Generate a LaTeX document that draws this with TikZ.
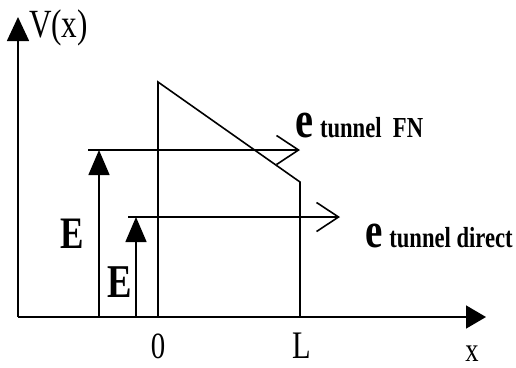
\documentclass[tikz,border=0pt]{standalone}
\usepackage{fontspec}
\usepackage{graphicx}
\setmainfont{Liberation Serif}
\usetikzlibrary{arrows.meta}
\newcommand{\narrow}[1]{\scalebox{0.78}[1]{#1}}
\tikzset{
  ln/.style={line width=1.6pt, line cap=butt},
  axisarrow/.style={ln, -{Triangle[length=20pt,width=23pt]}},
  earrow/.style={ln, -{Triangle[length=25pt,width=21pt]}},
  barb/.style={ln, -{Straight Barb[length=22pt,width=29pt,line width=1.6pt]}},
  lbl/.style={inner sep=0pt, outer sep=0pt, text=black},
}
\begin{document}
\begin{tikzpicture}[x=1pt,y=-1pt]
\useasboundingbox (0,0) rectangle (516,367);
% axes
\coordinate (O) at (18,317);
\coordinate (xend) at (486,317);
\coordinate (yend) at (18,17);
\draw[axisarrow] (O) -- (xend);
\draw[ln, -{Triangle[length=24pt,width=22pt]}] (O) -- (yend);
% barrier
\coordinate (b0) at (158,317);
\coordinate (btop) at (158,82);
\coordinate (bcorner) at (300,182);
\coordinate (bL) at (300,317);
\draw[ln, line join=miter] (b0) -- (btop) -- (bcorner) -- (bL);
% energy E (FN)
\coordinate (e1base) at (99,317);
\coordinate (e1top) at (99,150);
\coordinate (h1start) at (88,150);
\coordinate (h1end) at (300,150);
\draw[earrow] (e1base) -- (e1top);
\draw[barb] (h1start) -- (h1end);
% energy E (direct)
\coordinate (e2base) at (136,317);
\coordinate (e2top) at (136,217);
\coordinate (h2start) at (128,217);
\coordinate (h2end) at (340,217);
\draw[earrow] (e2base) -- (e2top);
\draw[barb] (h2start) -- (h2end);
% labels
\node[lbl, anchor=base west] (Vx) at (29,37) {\narrow{\fontsize{40}{40}\selectfont V(x)}};
\node[lbl, anchor=base west] (fn) at (295,137) {\narrow{\fontsize{52}{52}\selectfont\bfseries e\hspace{9pt}\fontsize{29}{29}\selectfont tunnel\ \ FN}};
\node[lbl, anchor=base west] (dir) at (365,247) {\narrow{\fontsize{50}{50}\selectfont\bfseries e\hspace{9pt}\fontsize{29}{29}\selectfont tunnel direct}};
\node[lbl, anchor=base west] (E1) at (60,248) {\narrow{\fontsize{45}{45}\selectfont\bfseries E}};
\node[lbl, anchor=base west] (E2) at (107,297) {\narrow{\fontsize{47}{47}\selectfont\bfseries E}};
\node[lbl, anchor=base] (zero) at (158,358) {\narrow{\fontsize{37}{37}\selectfont 0}};
\node[lbl, anchor=base] (Lbl) at (302,358) {\narrow{\fontsize{39}{39}\selectfont L}};
\node[lbl, anchor=base] (xlbl) at (472,361) {\narrow{\fontsize{34}{34}\selectfont x}};
\end{tikzpicture}
\end{document}
